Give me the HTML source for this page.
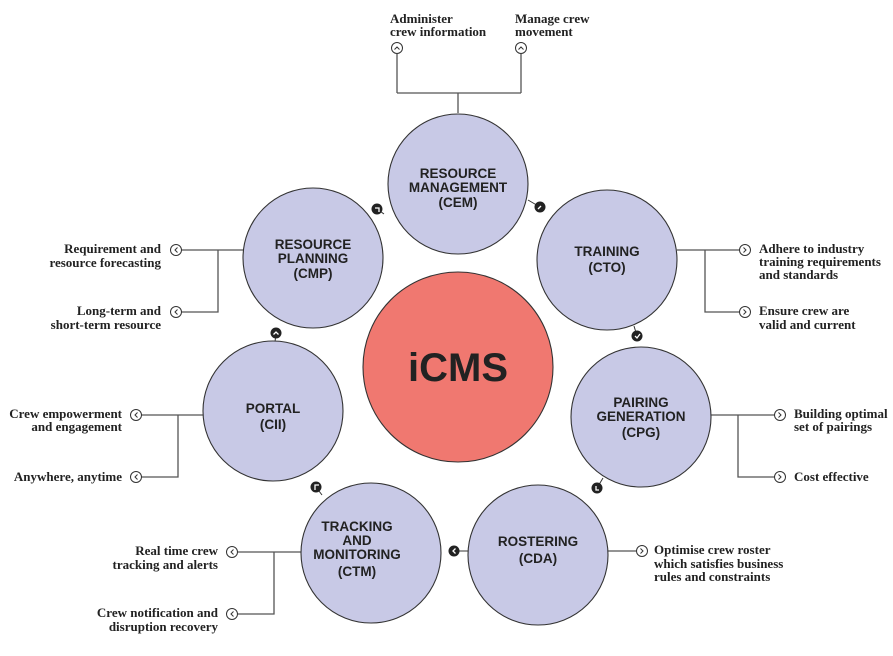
<!DOCTYPE html>
<html><head><style>
html,body{margin:0;padding:0;background:#fff;}
svg{display:block;}
.d{font-family:"Liberation Serif",serif;font-weight:bold;font-size:13px;fill:#222;}
.c{font-family:"Liberation Sans",sans-serif;font-weight:bold;font-size:13.5px;fill:#222;text-anchor:middle;}
</style></head><body>
<svg width="893" height="656" viewBox="0 0 893 656" xmlns="http://www.w3.org/2000/svg">
<g stroke="#555" stroke-width="1.3" fill="none">
<path d="M458 113V93M397 93H521M397 54V93M521 54V93"/>
<path d="M243 250H182M218 250V312H182"/>
<path d="M203 415H142M178 415V477H142"/>
<path d="M301 552H238M274 552V614H238"/>
<path d="M677 250H739M705 250V312H739"/>
<path d="M711 415H774M738 415V477H774"/>
<path d="M608 551H636"/>
</g>
<g fill="#fff" stroke="#333" stroke-width="1">
<circle cx="397" cy="48" r="5.5"/><circle cx="521" cy="48" r="5.5"/>
<circle cx="176" cy="250" r="5.5"/><circle cx="176" cy="312" r="5.5"/>
<circle cx="136" cy="415" r="5.5"/><circle cx="136" cy="477" r="5.5"/>
<circle cx="232" cy="552" r="5.5"/><circle cx="232" cy="614" r="5.5"/>
<circle cx="745" cy="250" r="5.5"/><circle cx="745" cy="312" r="5.5"/>
<circle cx="780" cy="415" r="5.5"/><circle cx="780" cy="477" r="5.5"/>
<circle cx="642" cy="551" r="5.5"/>
</g>
<g stroke="#333" stroke-width="1" fill="none">
<path d="M394.5 49.5L397 47L399.5 49.5M518.5 49.5L521 47L523.5 49.5"/>
<path d="M177.5 247.5L175 250L177.5 252.5M177.5 309.5L175 312L177.5 314.5M137.5 412.5L135 415L137.5 417.5M137.5 474.5L135 477L137.5 479.5M233.5 549.5L231 552L233.5 554.5M233.5 611.5L231 614L233.5 616.5"/>
<path d="M743.5 247.5L746 250L743.5 252.5M743.5 309.5L746 312L743.5 314.5M778.5 412.5L781 415L778.5 417.5M778.5 474.5L781 477L778.5 479.5M640.5 548.5L643 551L640.5 553.5"/>
</g>
<g stroke="#333" stroke-width="1">
<line x1="377" y1="209" x2="384" y2="214"/><line x1="540" y1="207" x2="528" y2="200"/>
<line x1="637" y1="336" x2="634" y2="326"/><line x1="597" y1="488" x2="603" y2="478"/>
<line x1="454" y1="551" x2="468" y2="551"/><line x1="316" y1="487" x2="322" y2="495"/>
<line x1="276" y1="333" x2="275" y2="342"/>
</g>
<g fill="#c8c9e6" stroke="#333" stroke-width="1.1">
<circle cx="458" cy="184" r="70"/>
<circle cx="607" cy="260" r="70"/>
<circle cx="641" cy="417" r="70"/>
<circle cx="538" cy="555" r="70"/>
<circle cx="371" cy="553" r="70"/>
<circle cx="273" cy="411" r="70"/>
<circle cx="313" cy="258" r="70"/>
</g>
<circle cx="458" cy="367" r="95" fill="#f07870" stroke="#333" stroke-width="1.1"/>
<g fill="#222">
<circle cx="377" cy="209" r="5.5"/><circle cx="540" cy="207" r="5.5"/>
<circle cx="637" cy="336" r="5.5"/><circle cx="597" cy="488" r="5.5"/>
<circle cx="454" cy="551" r="5.5"/><circle cx="316" cy="487" r="5.5"/>
<circle cx="276" cy="333" r="5.5"/>
</g>
<g stroke="#fff" stroke-width="1.3" fill="none">
<path d="M375 208H379V212"/><path d="M538 209L541 206"/><path d="M635 336L637 338L640 334"/>
<path d="M596 486V490H599"/><path d="M455.5 548.5L453 551L455.5 553.5"/><path d="M315 490V485H319"/><path d="M273.5 334.5L276 332L278.5 334.5"/>
</g>
<text x="458" y="381" class="c" style="font-size:40px;fill:#222">iCMS</text>
<text class="c"><tspan x="458" y="178">RESOURCE</tspan><tspan x="458" y="192">MANAGEMENT</tspan><tspan x="458" y="207">(CEM)</tspan></text>
<text class="c"><tspan x="607" y="256">TRAINING</tspan><tspan x="607" y="272">(CTO)</tspan></text>
<text class="c"><tspan x="641" y="407">PAIRING</tspan><tspan x="641" y="421">GENERATION</tspan><tspan x="641" y="437">(CPG)</tspan></text>
<text class="c"><tspan x="538" y="546">ROSTERING</tspan><tspan x="538" y="563">(CDA)</tspan></text>
<text class="c"><tspan x="357" y="531">TRACKING</tspan><tspan x="357" y="545">AND</tspan><tspan x="357" y="559">MONITORING</tspan><tspan x="357" y="576">(CTM)</tspan></text>
<text class="c"><tspan x="273" y="413">PORTAL</tspan><tspan x="273" y="429">(CII)</tspan></text>
<text class="c"><tspan x="313" y="249">RESOURCE</tspan><tspan x="313" y="263">PLANNING</tspan><tspan x="313" y="278">(CMP)</tspan></text>
<text class="d"><tspan x="390" y="23">Administer</tspan><tspan x="390" y="36">crew information</tspan></text>
<text class="d"><tspan x="515" y="23">Manage crew</tspan><tspan x="515" y="36">movement</tspan></text>
<text class="d" text-anchor="end"><tspan x="161" y="253">Requirement and</tspan><tspan x="161" y="267">resource forecasting</tspan></text>
<text class="d" text-anchor="end"><tspan x="161" y="315">Long-term and</tspan><tspan x="161" y="329">short-term resource</tspan></text>
<text class="d" text-anchor="end"><tspan x="122" y="418">Crew empowerment</tspan><tspan x="122" y="431">and engagement</tspan></text>
<text class="d" text-anchor="end"><tspan x="122" y="481">Anywhere, anytime</tspan></text>
<text class="d" text-anchor="end"><tspan x="218" y="555">Real time crew</tspan><tspan x="218" y="569">tracking and alerts</tspan></text>
<text class="d" text-anchor="end"><tspan x="218" y="617">Crew notification and</tspan><tspan x="218" y="631">disruption recovery</tspan></text>
<text class="d"><tspan x="759" y="253">Adhere to industry</tspan><tspan x="759" y="266">training requirements</tspan><tspan x="759" y="279">and standards</tspan></text>
<text class="d"><tspan x="759" y="315">Ensure crew are</tspan><tspan x="759" y="329">valid and current</tspan></text>
<text class="d"><tspan x="794" y="418">Building optimal</tspan><tspan x="794" y="431">set of pairings</tspan></text>
<text class="d"><tspan x="794" y="481">Cost effective</tspan></text>
<text class="d"><tspan x="654" y="554">Optimise crew roster</tspan><tspan x="654" y="568">which satisfies business</tspan><tspan x="654" y="581">rules and constraints</tspan></text>
</svg>
</body></html>
